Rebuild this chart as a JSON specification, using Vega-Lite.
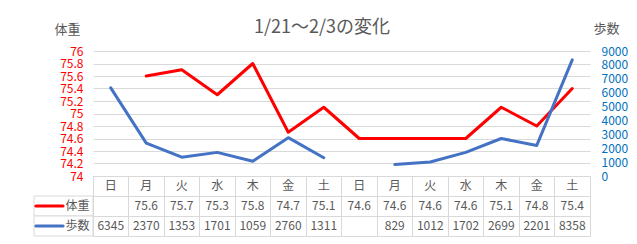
{
  "$schema": "https://vega.github.io/schema/vega-lite/v6.json",
  "padding": {"left": 29, "top": 19, "right": 10, "bottom": 5},
  "background": "white",
  "title": {"text": "1/21～2/3の変化", "fontSize": 18, "fontWeight": "normal", "color": "#595959", "anchor": "start", "frame": "group", "dx": 220, "offset": -15},
  "datasets": {
    "days": [
      {"i": 0, "day": "日", "weight": null, "steps": 6345},
      {"i": 1, "day": "月", "weight": 75.6, "steps": 2370},
      {"i": 2, "day": "火", "weight": 75.7, "steps": 1353},
      {"i": 3, "day": "水", "weight": 75.3, "steps": 1701},
      {"i": 4, "day": "木", "weight": 75.8, "steps": 1059},
      {"i": 5, "day": "金", "weight": 74.7, "steps": 2760},
      {"i": 6, "day": "土", "weight": 75.1, "steps": 1311},
      {"i": 7, "day": "日", "weight": 74.6, "steps": null},
      {"i": 8, "day": "月", "weight": 74.6, "steps": 829},
      {"i": 9, "day": "火", "weight": 74.6, "steps": 1012},
      {"i": 10, "day": "水", "weight": 74.6, "steps": 1702},
      {"i": 11, "day": "木", "weight": 75.1, "steps": 2699},
      {"i": 12, "day": "金", "weight": 74.8, "steps": 2201},
      {"i": 13, "day": "土", "weight": 75.4, "steps": 8358}
    ],
    "rows": [
      {"row": "体重"},
      {"row": "歩数"}
    ]
  },
  "columns": 2,
  "spacing": 0,
  "bounds": "flush",
  "align": "each",
  "concat": [
    {
      "width": 59,
      "height": 125,
      "data": {"values": []},
      "mark": "point"
    },
    {
      "width": 497,
      "height": 125,
      "data": {"name": "days"},
      "encoding": {
        "x": {"field": "i", "type": "ordinal", "scale": {"type": "point", "domain": [0,1,2,3,4,5,6,7,8,9,10,11,12,13], "padding": 0.5}, "axis": null}
      },
      "layer": [
        {
          "mark": {"type": "line", "color": "#FF0000", "strokeWidth": 3, "strokeJoin": "round", "strokeCap": "round", "invalid": "break-paths-show-domains"},
          "encoding": {
            "y": {
              "field": "weight", "type": "quantitative",
              "scale": {"domain": [74, 76], "zero": false, "nice": false},
              "axis": {
                "values": [74, 74.2, 74.4, 74.6, 74.8, 75, 75.2, 75.4, 75.6, 75.8, 76],
                "format": "~g", "labelColor": "#FF0000", "labelFontSize": 12, "labelPadding": 10,
                "labelFlush": false, "labelOverlap": false,
                "grid": true, "gridColor": "#D9D9D9", "domain": false, "ticks": false,
                "title": "体重", "titleAngle": 0, "titleX": -26, "titleY": -22, "titleAlign": "center", "titleBaseline": "middle",
                "titleFontSize": 13, "titleFontWeight": "normal", "titleColor": "#595959"
              }
            }
          }
        },
        {
          "mark": {"type": "line", "color": "#4472C4", "strokeWidth": 3, "strokeJoin": "round", "strokeCap": "round", "invalid": "break-paths-show-domains"},
          "encoding": {
            "y": {
              "field": "steps", "type": "quantitative",
              "scale": {"domain": [0, 9000], "nice": false},
              "axis": {
                "orient": "right",
                "values": [0, 1000, 2000, 3000, 4000, 5000, 6000, 7000, 8000, 9000],
                "format": "d", "labelColor": "#0070C0", "labelFontSize": 12, "labelPadding": 11,
                "labelFlush": false, "labelOverlap": false,
                "grid": false, "domain": false, "ticks": false,
                "title": "歩数", "titleAngle": 0, "titleX": 16, "titleY": -23, "titleAlign": "center", "titleBaseline": "middle",
                "titleFontSize": 13, "titleFontWeight": "normal", "titleColor": "#595959"
              }
            }
          }
        }
      ],
      "resolve": {"scale": {"y": "independent"}}
    },
    {
      "width": 59,
      "height": 60,
      "data": {"name": "rows"},
      "encoding": {
        "y": {"field": "row", "type": "nominal", "scale": {"type": "band", "domain": ["hdr", "体重", "歩数"], "paddingInner": 0, "paddingOuter": 0}, "axis": null}
      },
      "layer": [
        {
          "mark": {"type": "rect", "fill": "white", "stroke": "#D9D9D9", "strokeWidth": 1},
          "encoding": {"x": {"value": 0}, "x2": {"value": "width"}}
        },
        {
          "mark": {"type": "point", "shape": "stroke", "filled": false, "strokeWidth": 3, "size": 740, "strokeCap": "round", "opacity": 1},
          "encoding": {
            "x": {"datum": "sym", "type": "nominal", "scale": {"type": "band", "domain": ["sym", "lab"], "paddingInner": 0, "paddingOuter": 0.05}, "axis": null},
            "color": {"field": "row", "type": "nominal", "scale": {"domain": ["体重", "歩数"], "range": ["#FF0000", "#4472C4"]}, "legend": null}
          }
        },
        {
          "mark": {"type": "text", "fontSize": 12, "color": "#595959", "align": "center", "baseline": "middle"},
          "encoding": {
            "x": {"datum": "lab", "type": "nominal"},
            "text": {"field": "row"}
          }
        }
      ]
    },
    {
      "width": 497,
      "height": 60,
      "data": {"name": "days"},
      "view": {"stroke": "#D9D9D9"},
      "encoding": {
        "x": {"field": "i", "type": "ordinal", "scale": {"type": "band", "domain": [0,1,2,3,4,5,6,7,8,9,10,11,12,13], "paddingInner": 0, "paddingOuter": 0},
          "axis": {"bandPosition": 0, "grid": true, "gridColor": "#D9D9D9", "labels": false, "ticks": false, "domain": false, "title": null}}
      },
      "layer": [
        {
          "mark": {"type": "text", "fontSize": 12, "color": "#595959", "align": "center", "baseline": "middle"},
          "encoding": {
            "y": {"datum": "hdr", "type": "nominal", "scale": {"type": "band", "domain": ["hdr", "体重", "歩数"], "paddingInner": 0, "paddingOuter": 0},
              "axis": {"bandPosition": 0, "grid": true, "gridColor": "#D9D9D9", "labels": false, "ticks": false, "domain": false, "title": null}},
            "text": {"field": "day"}
          }
        },
        {
          "transform": [{"filter": "isValid(datum.weight)"}],
          "mark": {"type": "text", "fontSize": 12, "color": "#595959", "align": "center", "baseline": "middle"},
          "encoding": {
            "y": {"datum": "体重", "type": "nominal"},
            "text": {"field": "weight", "type": "quantitative", "format": ".1f"}
          }
        },
        {
          "transform": [{"filter": "isValid(datum.steps)"}],
          "mark": {"type": "text", "fontSize": 12, "color": "#595959", "align": "center", "baseline": "middle"},
          "encoding": {
            "y": {"datum": "歩数", "type": "nominal"},
            "text": {"field": "steps", "type": "quantitative", "format": "d"}
          }
        }
      ]
    }
  ],
  "config": {
    "font": "Noto Sans CJK JP",
    "view": {"stroke": null}
  }
}
